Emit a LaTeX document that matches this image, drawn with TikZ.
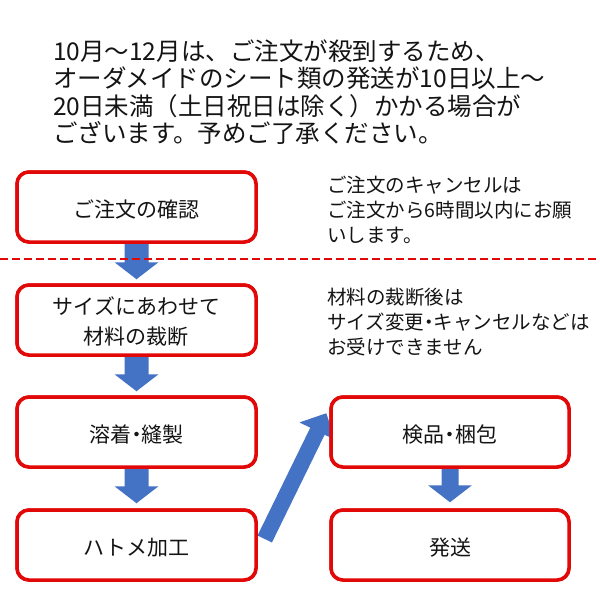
\documentclass[tikz,border=0pt]{standalone}
\usepackage{fontspec}
\setmainfont{Noto Sans CJK JP}
\newfontfamily\paltjp[RawFeature=+palt]{Noto Sans CJK JP}
\usetikzlibrary{calc}
\definecolor{boxred}{RGB}{226,8,8}
\definecolor{arrowblue}{RGB}{68,114,196}
\definecolor{txtcol}{RGB}{20,20,20}
% block arrow: #1 start, #2 tip, #3 half shaft width, #4 half head width, #5 head length
\newcommand\blockarr[5]{%
  \path (#1) coordinate (ba) (#2) coordinate (bb);
  \path ($(bb)!#5!(ba)$) coordinate (bh);
  \fill[arrowblue] ($(ba)!#3!90:(bb)$) -- ($(bh)!#3!-90:(ba)$) -- ($(bh)!#4!-90:(ba)$)
    -- (bb) -- ($(bh)!#4!90:(ba)$) -- ($(bh)!#3!90:(ba)$) -- ($(ba)!#3!-90:(bb)$) -- cycle;
}
\tikzset{
  flowbox/.style={draw=boxred, line width=3.5pt, fill=white, rounded corners=12pt,
    minimum width=239pt, minimum height=70pt, inner sep=0pt},
  boxtext/.style={inner sep=0pt, align=center, text=txtcol,
    font=\fontsize{21pt}{30pt}\selectfont},
  notetext/.style={inner sep=0pt, align=left, text=txtcol, anchor=north west,
    font=\fontsize{19.5pt}{25pt}\selectfont},
  sepline/.style={draw=boxred, line width=2.5pt, dash pattern=on 8pt off 4pt},
}
\begin{document}
\begin{tikzpicture}[x=1pt,y=-1pt]
\useasboundingbox (0,0) rectangle (600,600);
\fill[white] (0,0) rectangle (600,600);

% title
\node[anchor=north west, inner sep=0pt, align=left, text=txtcol,
  font=\fontsize{24.5pt}{27.5pt}\selectfont] (title) at (53,39.5)
  {10月～12月は、ご注文が殺到するため、\\オーダメイドのシート類の発送が10日以上～\\20日未満（土日祝日は除く）かかる場合が\\ございます。予めご了承ください。};

% boxes (coordinates first, drawn after arrows)
\path (136.5,207) coordinate (c1) (136.5,320) coordinate (c2)
      (136.5,432) coordinate (c3) (136.5,545) coordinate (c4)
      (450,432) coordinate (c5) (450,545) coordinate (c6);
\node[flowbox] (b1) at (c1) {};
\node[flowbox] (b2) at (c2) {};
\node[flowbox] (b3) at (c3) {};
\node[flowbox] (b4) at (c4) {};
\node[flowbox, minimum width=238pt] (b5) at (c5) {};
\node[flowbox, minimum width=238pt] (b6) at (c6) {};

% arrows
\blockarr{b1.south}{$(b2.north)+(0,-4)$}{12pt}{22pt}{17pt}
\blockarr{b2.south}{$(b3.north)+(0,-4)$}{12pt}{22pt}{17pt}
\blockarr{b3.south}{$(b4.north)+(0,-5)$}{12pt}{22pt}{17pt}
\blockarr{b5.south}{$(b6.north)+(0,-6)$}{8.5pt}{22pt}{17pt}
\blockarr{$(b4.east)+(7,-6)$}{$(b5.north west)+(-3,18)$}{8pt}{20pt}{20pt}

% redraw boxes on top of arrow tails
\node[flowbox] at (c1) {};
\node[flowbox] at (c2) {};
\node[flowbox] at (c3) {};
\node[flowbox] at (c4) {};
\node[flowbox, minimum width=238pt] at (c5) {};
\node[flowbox, minimum width=238pt] at (c6) {};

% box texts
\node[boxtext] (t1) at ($(b1.center)+(0,2.5)$) {ご注文の確認};
\node[boxtext] (t2) at ($(b2.center)+(0,2)$) {サイズにあわせて\\材料の裁断};
\node[boxtext] (t3) at ($(b3.center)+(0,3)$) {溶着{\paltjp ・}縫製};
\node[boxtext] (t4) at ($(b4.center)+(0,3)$) {ハトメ加工};
\node[boxtext] (t5) at ($(b5.center)+(0,3)$) {検品{\paltjp ・}梱包};
\node[boxtext] (t6) at ($(b6.center)+(0,3)$) {発送};

% notes
\node[notetext] (n1) at (327,175.8) {ご注文のキャンセルは\\ご注文から6時間以内にお願\\いします。};
\node[notetext] (n2) at (327,287.8) {材料の裁断後は\\サイズ変更{\paltjp ・}キャンセルなどは\\お受けできません};

% separator
\draw[sepline] (0,259) -- (600,259);
\end{tikzpicture}
\end{document}
